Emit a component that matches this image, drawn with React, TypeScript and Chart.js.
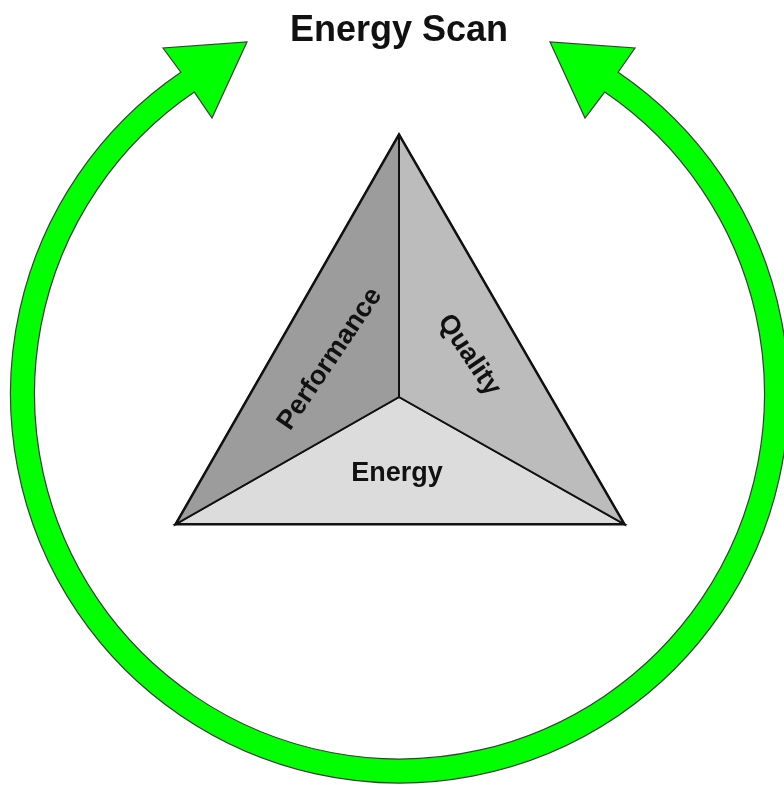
import React, { useEffect, useRef } from 'react';
import { Chart, registerables } from 'chart.js';

Chart.register(...registerables);

// ---- Data (diagram coordinates, in scale units) ----
const TITLE = 'Energy Scan';
const FACE_LABELS = ['Performance', 'Quality', 'Energy'];

// vertices: apex, bottom-left, bottom-right, inner centre
const VERTEX_X = [399, 176, 624, 399];
const VERTEX_Y = [135, 524, 524, 397];
// faces by vertex index: Performance, Quality, Energy
const FACE_VERTICES = [
  [0, 3, 1],
  [0, 2, 3],
  [3, 2, 1],
];
const OUTLINE_VERTICES = [0, 2, 1];

// face label anchors and rotations (degrees)
const LABEL_X = [330, 469, 397];
const LABEL_Y = [359, 355, 474];
const LABEL_ANGLE = [-56, 56, 0];

// green cycle arrow
const ARC_CENTER = [399.5, 394];
const ARC_RADII = [365, 389]; // inner, outer
const ARC_END_ANGLES = [-55.8, 235.8]; // right end, left end (degrees)
const HEAD_LEFT_X = [163, 247, 212]; // outer corner, tip, inner corner
const HEAD_LEFT_Y = [48, 42, 118];
const HEAD_RIGHT_X = [635, 550, 585];
const HEAD_RIGHT_Y = [48, 42, 118];

// ---- Styles ----
const FACE_COLORS = ['#9c9c9c', '#bcbcbc', '#dcdcdc'];
const FONT = '"Liberation Sans", Arial, Helvetica, sans-serif';

const rad = (d: number) => (d * Math.PI) / 180;

const diagramPlugin = {
  id: 'diagram',
  beforeDatasetsDraw(chart: any) {
    const { ctx, scales } = chart;
    const xs = scales.x;
    const ys = scales.y;
    const px = (v: number) => xs.getPixelForValue(v);
    const py = (v: number) => ys.getPixelForValue(v);
    const cx = px(ARC_CENTER[0]);
    const cy = py(ARC_CENTER[1]);
    const rIn = px(ARC_CENTER[0] + ARC_RADII[0]) - cx;
    const rOut = px(ARC_CENTER[0] + ARC_RADII[1]) - cx;
    const a0 = rad(ARC_END_ANGLES[0]);
    const a1 = rad(ARC_END_ANGLES[1]);
    ctx.save();
    ctx.beginPath();
    ctx.arc(cx, cy, rOut, a0, a1, false);
    for (let i = 0; i < HEAD_LEFT_X.length; i++) {
      ctx.lineTo(px(HEAD_LEFT_X[i]), py(HEAD_LEFT_Y[i]));
    }
    ctx.arc(cx, cy, rIn, a1, a0, true);
    for (let i = HEAD_RIGHT_X.length - 1; i >= 0; i--) {
      ctx.lineTo(px(HEAD_RIGHT_X[i]), py(HEAD_RIGHT_Y[i]));
    }
    ctx.closePath();
    ctx.fillStyle = '#00ff00';
    ctx.fill();
    ctx.lineWidth = 1.2;
    ctx.strokeStyle = '#3c3c3c';
    ctx.lineJoin = 'miter';
    ctx.stroke();
    ctx.restore();
  },
  afterDatasetsDraw(chart: any) {
    const { ctx, scales } = chart;
    const xs = scales.x;
    const ys = scales.y;
    ctx.save();
    ctx.fillStyle = '#111111';
    ctx.textAlign = 'center';
    ctx.textBaseline = 'alphabetic';
    ctx.font = `bold 36px ${FONT}`;
    ctx.fillText(TITLE, xs.getPixelForValue(399), ys.getPixelForValue(41));
    ctx.font = `bold 27px ${FONT}`;
    ctx.textBaseline = 'middle';
    for (let i = 0; i < FACE_LABELS.length; i++) {
      ctx.save();
      ctx.translate(xs.getPixelForValue(LABEL_X[i]), ys.getPixelForValue(LABEL_Y[i]));
      ctx.rotate(rad(LABEL_ANGLE[i]));
      ctx.fillText(FACE_LABELS[i], 0, 0);
      ctx.restore();
    }
    ctx.restore();
  },
};

export default function App() {
  const canvasRef = useRef<HTMLCanvasElement | null>(null);

  useEffect(() => {
    const canvas = canvasRef.current;
    if (!canvas) return;
    const pt = (i: number) => ({ x: VERTEX_X[i], y: VERTEX_Y[i] });
    const faceDatasets = FACE_VERTICES.map((vs, i) => ({
      label: FACE_LABELS[i],
      data: [...vs, vs[0]].map(pt),
      backgroundColor: FACE_COLORS[i],
      borderColor: '#111111',
      borderWidth: 2,
      fill: 'shape' as any,
      pointRadius: 0,
      tension: 0,
      borderJoinStyle: 'miter' as const,
    }));
    const outline = {
      label: 'outline',
      data: [...OUTLINE_VERTICES, OUTLINE_VERTICES[0], OUTLINE_VERTICES[1]].map(pt),
      borderColor: '#0a0a0a',
      borderWidth: 3,
      fill: false,
      pointRadius: 0,
      tension: 0,
      borderJoinStyle: 'miter' as const,
    };
    const chart = new Chart(canvas, {
      type: 'line',
      data: { datasets: [...faceDatasets, outline] as any },
      options: {
        responsive: false,
        animation: false,
        layout: { padding: 0 },
        scales: {
          x: { type: 'linear', min: 0, max: 784, display: false },
          y: { type: 'linear', min: 0, max: 785, reverse: true, display: false },
        },
        plugins: {
          legend: { display: false },
          tooltip: { enabled: false },
          title: { display: false },
        },
        events: [],
      },
      plugins: [diagramPlugin],
    });
    return () => chart.destroy();
  }, []);

  return (
    <div style={{ position: 'fixed', left: 0, top: 0, width: 784, height: 785, background: '#ffffff' }}>
      <canvas ref={canvasRef} width={784} height={785} style={{ display: 'block' }} />
    </div>
  );
}
